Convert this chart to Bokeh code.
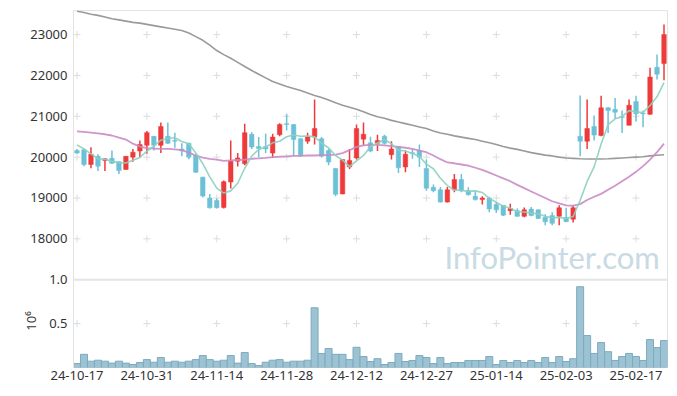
from bokeh.plotting import figure
from bokeh.models import ColumnDataSource, FixedTicker, Label, Range1d, Span, LinearAxis
from bokeh.embed import file_html
from bokeh.resources import INLINE

dates = ["24-10-17","24-10-18","24-10-21","24-10-22","24-10-23","24-10-24","24-10-25","24-10-28","24-10-29","24-10-30",
         "24-10-31","24-11-01","24-11-04","24-11-05","24-11-06","24-11-07","24-11-08","24-11-11","24-11-12","24-11-13",
         "24-11-14","24-11-15","24-11-18","24-11-19","24-11-20","24-11-21","24-11-22","24-11-25","24-11-26","24-11-27",
         "24-11-28","24-11-29","24-12-02","24-12-03","24-12-04","24-12-05","24-12-06","24-12-09","24-12-10","24-12-11",
         "24-12-12","24-12-13","24-12-16","24-12-17","24-12-18","24-12-19","24-12-20","24-12-23","24-12-24","24-12-26",
         "24-12-27","24-12-30","25-01-02","25-01-03","25-01-06","25-01-07","25-01-08","25-01-09","25-01-10","25-01-13",
         "25-01-14","25-01-15","25-01-16","25-01-17","25-01-20","25-01-21","25-01-22","25-01-23","25-01-24","25-01-31",
         "25-02-03","25-02-04","25-02-05","25-02-06","25-02-07","25-02-10","25-02-11","25-02-12","25-02-13","25-02-14",
         "25-02-17","25-02-18","25-02-19","25-02-20","25-02-21"]

opens = [20160,20180,19820,20020,19920,19970,19890,19700,20000,20150,
         20290,20510,20290,20510,20410,20200,20340,20050,19510,19000,
         18940,18770,19390,19900,19840,20560,20260,20260,20100,20550,
         20820,20800,20450,20390,20490,20450,20160,19720,19100,19760,
         19980,20440,20350,20340,20510,20060,20260,19760,20110,20160,
         19720,19260,19200,18900,19200,19450,19180,19040,18960,19000,
         18840,18820,18690,18690,18550,18730,18710,18530,18570,18550,
         18520,18480,20510,20390,20750,20530,21210,21170,20990,20780,
         21360,21080,21050,22200,22290]
highs = [20200,20210,20240,20070,19970,20160,19900,20030,20200,20410,
         20640,20520,20850,20850,20600,20340,20350,20060,19520,19100,
         18990,19430,20410,20100,20820,20610,20490,20570,20570,20830,
         21050,20810,20460,20600,21410,20490,20200,19730,19950,20200,
         20800,20850,20500,20550,20550,20390,20270,20160,20200,20310,
         19940,19330,19270,19270,19590,19590,19260,19170,19040,19030,
         18900,18830,18860,18740,18770,18780,18720,18600,18650,18820,
         18760,18820,21510,21410,21020,21500,21220,21450,21140,21410,
         21500,21140,22190,22510,23250]
lows = [20080,19780,19730,19660,19660,19830,19590,19690,19890,19990,
        20080,20160,20100,20320,20230,20020,19950,19610,19010,18740,
        18740,18740,19230,19770,19800,20200,20000,20100,19980,20510,
        20650,20020,20010,20330,20310,19990,19800,19040,19090,19710,
        19940,20290,20120,20150,20310,19940,19610,19630,19960,19760,
        19180,19140,18890,18890,19140,19140,19060,18940,18840,18650,
        18630,18560,18590,18540,18530,18550,18490,18330,18330,18330,
        18410,18400,20020,20200,20410,20510,20590,20940,20590,20780,
        20870,20730,21040,21900,21880]
closes = [20100,19820,20070,19780,19960,19850,19670,20020,20120,20310,
          20600,20290,20750,20340,20390,20150,20000,19630,19050,18760,
          18760,19400,19900,19980,20600,20250,20210,20200,20490,20800,
          20800,20430,20040,20510,20700,20020,19880,19090,19940,19920,
          20700,20560,20150,20410,20340,20200,19740,20070,20090,20000,
          19240,19180,18900,19200,19450,19180,19080,18960,19000,18730,
          18710,18580,18740,18550,18710,18570,18500,18420,18380,18760,
          18420,18760,20390,20700,20540,21210,21140,21100,20970,21270,
          21060,21060,21960,22030,23000]
volumes = [45000,150000,72000,83000,72000,50000,72000,50000,34000,57000,
           90000,60000,114000,60000,72000,60000,72000,90000,136000,90000,
           72000,83000,136000,50000,170000,45000,23000,60000,83000,90000,
           60000,72000,72000,83000,680000,160000,216000,150000,150000,90000,
           230000,125000,68000,100000,34000,57000,160000,68000,80000,136000,
           114000,45000,114000,45000,57000,57000,80000,80000,80000,125000,
           34000,80000,57000,80000,57000,80000,57000,114000,57000,125000,
           68000,100000,920000,364000,160000,284000,180000,80000,125000,160000,
           125000,80000,318000,227000,307000]
ma5 = [20300,20200,20080,19960,19946,19896,19866,19856,19924,19994,
       20144,20268,20414,20458,20474,20384,20326,20102,19844,19518,
       19240,19120,19174,19360,19728,20026,20188,20248,20350,20390,
       20500,20544,20512,20516,20496,20340,20230,20040,19926,19770,
       19906,20042,20254,20348,20432,20332,20168,20152,20088,20020,
       19828,19716,19482,19304,19194,19182,19162,19174,19134,18990,
       18896,18796,18752,18662,18658,18630,18614,18550,18516,18526,
       18496,18548,18942,19406,19762,20320,20796,20938,20992,21138,
       21108,21092,21264,21476,21822]
ma20 = [20630,20620,20600,20580,20560,20530,20480,20430,20330,20260,
        20220,20210,20200,20200,20190,20170,20110,20040,19990,19960,
        19940,19910,19920,19930,19940,19960,19970,19980,20000,20010,
        20020,20030,20030,20040,20040,20050,20050,20060,20100,20170,
        20250,20290,20300,20300,20290,20270,20250,20230,20200,20160,
        20120,20040,19950,19870,19850,19820,19790,19740,19690,19620,
        19550,19480,19410,19320,19240,19160,19080,19000,18920,18870,
        18820,18810,18850,18950,19030,19100,19200,19300,19410,19520,
        19640,19780,19940,20120,20330]
ma60 = [23570,23540,23500,23470,23430,23390,23360,23330,23300,23280,
        23250,23220,23190,23160,23130,23100,23040,22950,22860,22740,
        22610,22510,22420,22320,22220,22120,22030,21940,21850,21790,
        21730,21680,21630,21570,21510,21460,21400,21330,21270,21220,
        21170,21110,21045,20990,20950,20900,20860,20820,20780,20740,
        20700,20640,20590,20560,20520,20490,20460,20430,20390,20350,
        20310,20260,20220,20190,20150,20110,20080,20050,20030,20000,
        19980,19970,19960,19955,19955,19955,19960,19970,19980,19990,
        20000,20010,20030,20045,20060]

price_ticks = [18000, 19000, 20000, 21000, 22000, 23000]
vol_ticks = [0.5, 1.0]
vol_tick_labels = ["0.5", "1.0"]
vol_scale_label = "10⁶"
date_tick_idx = [0, 10, 20, 30, 40, 50, 60, 70, 80]

UP = "#ee3a3a"
DOWN = "#6cc1d7"
FONT = "Noto Sans"
GRID = "#e3e3e3"
TXT = "#333333"

# one frame: price panel on top, volume panel below (volume 1.0 sits at price 17000)
P0, P1 = 14850, 23590
PRICE_PER_VOL = 2150.0
V1 = (P1 - P0) / PRICE_PER_VOL
SCALE_LABEL_AT = 0.53  # vertical spot (volume units) of the rotated scale label

idx = list(range(len(dates)))
src = ColumnDataSource(dict(
    x=idx, open=opens, high=highs, low=lows, close=closes,
    top=[max(o, c) for o, c in zip(opens, closes)],
    bottom=[min(o, c) for o, c in zip(opens, closes)],
    color=[UP if c >= o else DOWN for o, c in zip(opens, closes)],
    vol=[v / 1e6 for v in volumes],
    ma5=ma5, ma20=ma20, ma60=ma60,
))

p = figure(width=669, height=395, x_range=Range1d(-0.5, 84.5), y_range=Range1d(P0, P1),
           output_backend="svg", toolbar_location=None,
           min_border_left=73, min_border_right=2, min_border_top=10, min_border_bottom=28)
p.extra_y_ranges = {"vol": Range1d(0, V1)}
p.outline_line_color = GRID
p.grid.grid_line_color = None
p.background_fill_color = "white"

# grid crosses at tick intersections
cx = [i for i in date_tick_idx for _ in price_ticks]
cy = [v for _ in date_tick_idx for v in price_ticks]
p.scatter(x=cx, y=cy, marker="cross", size=7, line_color="#dcdcdc", line_width=1)
p.scatter(x=list(date_tick_idx), y=[vol_ticks[0]] * len(date_tick_idx), y_range_name="vol",
          marker="cross", size=7, line_color="#dcdcdc", line_width=1)

# separator between panels
p.add_layout(Span(location=vol_ticks[1], dimension="width", y_range_name="vol",
                  line_color="#e4e4e4", line_width=2))

p.segment(x0="x", y0="high", x1="x", y1="low", color="color", line_width=1.5, source=src)
p.vbar(x="x", width=0.65, top="top", bottom="bottom", fill_color="color", line_color="color",
       line_width=0.5, source=src)

p.line("x", "ma60", source=src, line_color="#9a9a9a", line_width=1.6)
p.line("x", "ma20", source=src, line_color="#c98bc4", line_width=1.8, line_alpha=0.9)
p.line("x", "ma5", source=src, line_color="#8dcfc0", line_width=1.6, line_alpha=0.9)

p.vbar(x="x", width=1.0, top="vol", bottom=0, y_range_name="vol", fill_color="#9cc3d3",
       line_color="#7eaabe", line_width=1, source=src)

p.add_layout(Label(x=83.4, y=17560, text="InfoPointer.com", text_align="right",
                   text_baseline="alphabetic", text_font_size="31px", text_font="Lato",
                   text_color="#c8dae3"))

vol_pos = [int(round(P0 + t * PRICE_PER_VOL)) for t in vol_ticks]
p.yaxis.ticker = FixedTicker(ticks=price_ticks + vol_pos)
p.yaxis.major_label_overrides = {pos: lab for pos, lab in zip(vol_pos, vol_tick_labels)}
p.yaxis.axis_line_color = GRID
p.yaxis.major_tick_line_color = None
p.yaxis.minor_tick_line_color = None
p.yaxis.major_tick_out = 0
p.yaxis.major_tick_in = 0
p.yaxis.major_label_standoff = 6
p.yaxis.major_label_text_font = FONT
p.yaxis.major_label_text_font_size = "13px"
p.yaxis.major_label_text_color = TXT

# the rotated volume-scale label as a second left axis with a single labelled tick
scale_axis = LinearAxis(y_range_name="vol", ticker=FixedTicker(ticks=[SCALE_LABEL_AT]),
                        major_label_overrides={SCALE_LABEL_AT: vol_scale_label},
                        major_label_orientation="vertical",
                        axis_line_color=None, major_tick_line_color=None,
                        minor_tick_line_color=None, major_tick_out=0, major_tick_in=0,
                        major_label_standoff=-13, major_label_text_font=FONT,
                        major_label_text_font_size="13px", major_label_text_color=TXT)
p.add_layout(scale_axis, "left")

p.xaxis.ticker = FixedTicker(ticks=date_tick_idx)
p.xaxis.major_label_overrides = {i: dates[i] for i in date_tick_idx}
p.xaxis.axis_line_color = None
p.xaxis.major_tick_line_color = None
p.xaxis.minor_tick_line_color = None
p.xaxis.major_tick_out = 0
p.xaxis.major_tick_in = 0
p.xaxis.major_label_standoff = 3
p.xaxis.major_label_text_font = FONT
p.xaxis.major_label_text_font_size = "13px"
p.xaxis.major_label_text_color = TXT

open("out.html", "w").write(file_html(p, INLINE))
